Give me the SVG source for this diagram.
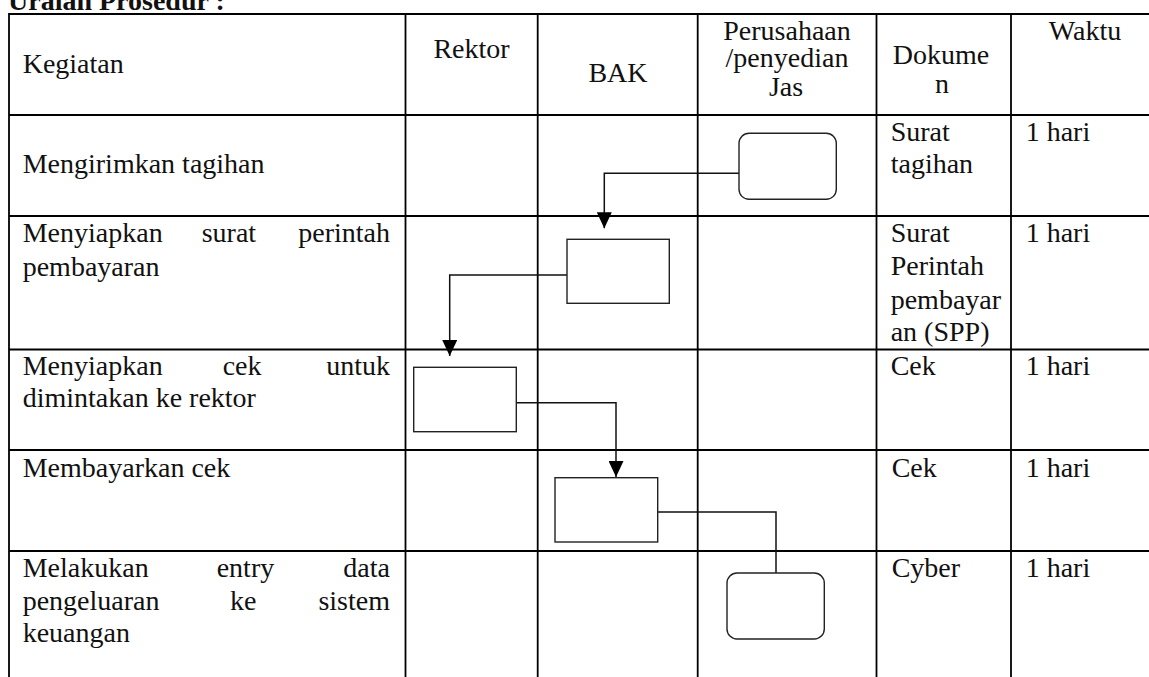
<svg xmlns="http://www.w3.org/2000/svg" width="1149" height="677" viewBox="0 0 1149 677">
<defs>
<style>
.t{font-family:"Liberation Serif","Times New Roman",serif;font-size:28px;fill:#111;}
.c{text-anchor:middle;}
.e{text-anchor:end;}
.title{font-family:"Liberation Serif","Times New Roman",serif;font-size:28px;font-weight:bold;fill:#111;}
.grid line{stroke:#000;stroke-width:1.8;}
.box{fill:#fff;stroke:#222;stroke-width:1.4;}
.conn{fill:none;stroke:#111;stroke-width:1.5;}
</style>
<marker id="arr" markerUnits="userSpaceOnUse" markerWidth="16" markerHeight="15" refX="16" refY="7.5" orient="auto">
<path d="M0,0 L16,7.5 L0,15 Z" fill="#000"/>
</marker>
</defs>
<rect width="1149" height="677" fill="#fff"/>
<text class="title" x="8" y="9.5">Uraian Prosedur :</text>
<g id="table" class="grid">
<line x1="9" y1="14" x2="1149" y2="14"/>
<line x1="9" y1="115" x2="1149" y2="115"/>
<line x1="9" y1="216" x2="1149" y2="216"/>
<line x1="9" y1="349.5" x2="1149" y2="349.5"/>
<line x1="9" y1="450" x2="1149" y2="450"/>
<line x1="9" y1="551" x2="1149" y2="551"/>
<line x1="9" y1="13" x2="9" y2="677"/>
<line x1="405.5" y1="13" x2="405.5" y2="677"/>
<line x1="537.7" y1="13" x2="537.7" y2="677"/>
<line x1="697.7" y1="13" x2="697.7" y2="677"/>
<line x1="876.5" y1="13" x2="876.5" y2="677"/>
<line x1="1011" y1="13" x2="1011" y2="677"/>
</g>
<g id="header">
<text class="t" x="22.7" y="73.3">Kegiatan</text>
<text class="t c" x="471.5" y="57.7">Rektor</text>
<text class="t c" x="618" y="81.7">BAK</text>
<text class="t c" x="787" y="40">Perusahaan</text>
<text class="t c" x="787" y="67">/penyedian</text>
<text class="t c" x="786" y="96">Jas</text>
<text class="t c" x="941" y="64">Dokume</text>
<text class="t c" x="942" y="93">n</text>
<text class="t c" x="1085" y="40">Waktu</text>
</g>
<g id="row1">
<text class="t" x="22.7" y="173.3">Mengirimkan tagihan</text>
<text class="t" x="890.7" y="140.7">Surat</text>
<text class="t" x="890.7" y="173.3">tagihan</text>
<text class="t" x="1025.7" y="140.7">1 hari</text>
</g>
<g id="row2">
<text class="t" x="22.7" y="241.7">Menyiapkan</text>
<text class="t" x="201.7" y="241.7">surat</text>
<text class="t e" x="390" y="241.7">perintah</text>
<text class="t" x="22.7" y="275.7">pembayaran</text>
<text class="t" x="890.7" y="241.7">Surat</text>
<text class="t" x="890.7" y="275">Perintah</text>
<text class="t" x="890.7" y="308.5">pembayar</text>
<text class="t" x="890.7" y="340.5">an (SPP)</text>
<text class="t" x="1025.7" y="241.7">1 hari</text>
</g>
<g id="row3">
<text class="t" x="22.7" y="375">Menyiapkan</text>
<text class="t" x="222.7" y="375">cek</text>
<text class="t e" x="390" y="375">untuk</text>
<text class="t" x="22.7" y="407">dimintakan ke rektor</text>
<text class="t" x="890.7" y="375">Cek</text>
<text class="t" x="1025.7" y="375">1 hari</text>
</g>
<g id="row4">
<text class="t" x="22.7" y="476.7">Membayarkan cek</text>
<text class="t" x="891.7" y="476.7">Cek</text>
<text class="t" x="1025.7" y="476.7">1 hari</text>
</g>
<g id="row5">
<text class="t" x="22.7" y="576.7">Melakukan</text>
<text class="t" x="216.7" y="576.7">entry</text>
<text class="t e" x="390" y="576.7">data</text>
<text class="t" x="22.7" y="610">pengeluaran</text>
<text class="t" x="230" y="610">ke</text>
<text class="t e" x="390" y="610">sistem</text>
<text class="t" x="22.7" y="641.7">keuangan</text>
<text class="t" x="891.7" y="576.7">Cyber</text>
<text class="t" x="1025.7" y="576.7">1 hari</text>
</g>
<g id="connectors">
<path class="conn" d="M739,173.3 H604.3 V228.3" marker-end="url(#arr)"/>
<path class="conn" d="M567,275 H449.7 V356" marker-end="url(#arr)"/>
<path class="conn" d="M516.3,402.7 H616 V477" marker-end="url(#arr)"/>
<path class="conn" d="M657.7,512 H776 V573"/>
</g>
<g id="n1"><rect class="box" x="739" y="133.3" width="97.3" height="66" rx="10"/></g>
<g id="n2"><rect class="box" x="567" y="239.3" width="102.3" height="64"/></g>
<g id="n3"><rect class="box" x="413.7" y="367.3" width="102.6" height="64.4"/></g>
<g id="n4"><rect class="box" x="555" y="477.7" width="102.7" height="64.3"/></g>
<g id="n5"><rect class="box" x="727" y="573" width="97.3" height="66" rx="10"/></g>
</svg>
